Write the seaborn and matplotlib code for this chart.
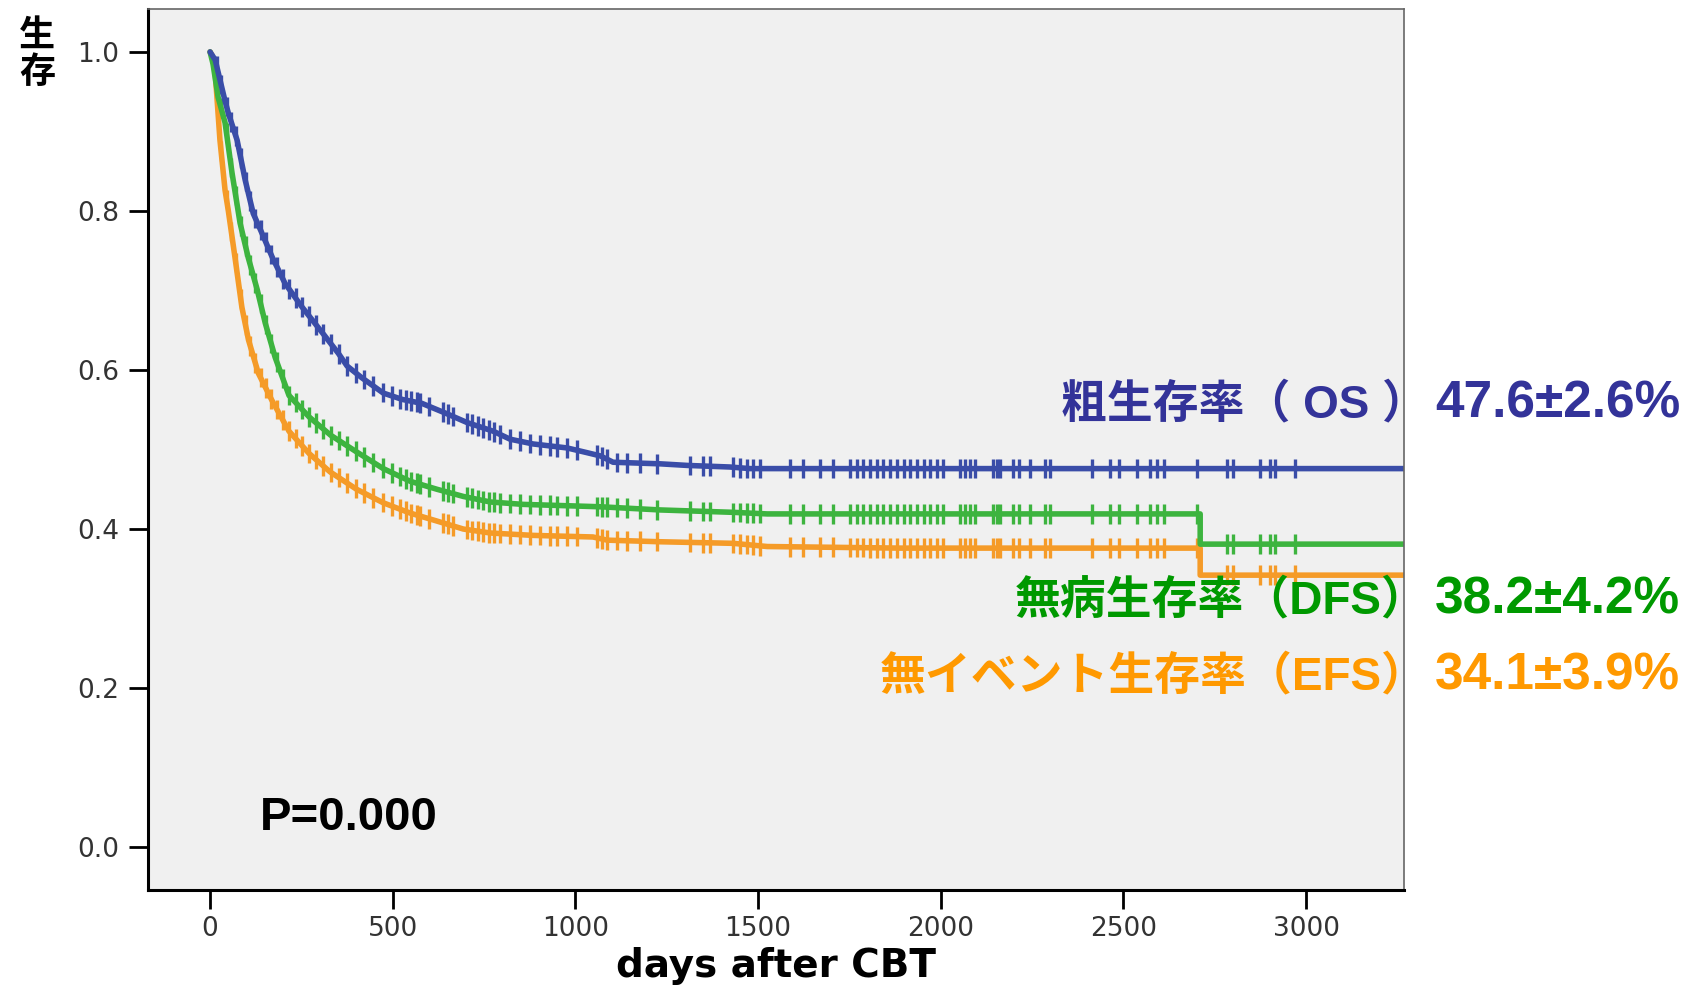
import numpy as np
import pandas as pd
import seaborn as sns
import matplotlib.pyplot as plt

# Kaplan-Meier curves (day, survival)
os_days = [0, 14, 27, 40, 50, 74, 96, 118, 142, 170, 205, 252, 307, 351, 375, 416, 474, 526,
           580, 643, 703, 775, 821, 884, 977, 1032, 1068, 1103, 1232, 1306, 1423, 1478, 3300]
os_surv = [1.000, 0.990, 0.965, 0.940, 0.923, 0.889, 0.839, 0.797, 0.772, 0.742, 0.709, 0.679,
           0.647, 0.621, 0.605, 0.590, 0.571, 0.563, 0.558, 0.546, 0.534, 0.523, 0.513, 0.507,
           0.502, 0.496, 0.492, 0.484, 0.482, 0.480, 0.478, 0.476, 0.476]

dfs_days = [0, 8, 22, 41, 60, 82, 104, 129, 151, 178, 216, 271, 330, 401, 474, 548, 621, 693,
            767, 857, 1068, 1232, 1432, 1525, 2710, 2710, 3300]
dfs_surv = [1.000, 0.985, 0.943, 0.911, 0.848, 0.785, 0.742, 0.701, 0.659, 0.616, 0.568, 0.541,
            0.518, 0.497, 0.476, 0.460, 0.450, 0.441, 0.434, 0.431, 0.428, 0.424, 0.421, 0.419,
            0.419, 0.381, 0.381]

efs_days = [0, 5, 14, 27, 41, 50, 68, 87, 105, 132, 169, 216, 271, 328, 401, 474, 548, 621,
            693, 767, 884, 1048, 1087, 1232, 1432, 1525, 1889, 2710, 2710, 3300]
efs_surv = [1.000, 0.996, 0.974, 0.889, 0.826, 0.800, 0.742, 0.679, 0.638, 0.596, 0.562, 0.523,
            0.495, 0.472, 0.450, 0.433, 0.420, 0.410, 0.400, 0.395, 0.392, 0.390, 0.386, 0.384,
            0.382, 0.378, 0.376, 0.376, 0.342, 0.342]

# censored follow-up times (shared by the three curves)
censor_days = [18, 30, 45, 58, 70, 84, 97, 110, 124, 138, 152, 167, 183, 199, 216, 234, 252,
               271, 290, 310, 331, 352, 375, 398, 422, 447, 472, 498, 520, 535, 550, 565, 575,
               600, 638, 650, 665, 703, 718, 733, 748, 763, 778, 794, 821, 849, 876, 903, 931,
               949, 976, 1004, 1059, 1072, 1086, 1113, 1141, 1177, 1223, 1314, 1350, 1369,
               1432, 1451, 1469, 1487, 1506, 1588, 1624, 1670, 1706, 1752, 1770, 1788, 1807,
               1825, 1843, 1861, 1880, 1898, 1916, 1934, 1953, 1971, 1989, 2007, 2053, 2067,
               2080, 2094, 2144, 2154, 2163, 2199, 2213, 2245, 2286, 2300, 2414, 2464, 2487,
               2537, 2573, 2592, 2610, 2701, 2784, 2800, 2874, 2902, 2916, 2970]

curves = ['EFS', 'DFS', 'OS']
line_colors = {'OS': '#3A4DA8', 'DFS': '#3DB43F', 'EFS': '#F59B28'}

labels = ['粗生存率（ OS ）', '無病生存率（DFS）', '無イベント生存率（EFS）']
values = ['47.6±2.6%', '38.2±4.2%', '34.1±3.9%']
text_colors = ['#333399', '#009900', '#FF9900']

sns.set_style('white')
plt.rcParams['font.family'] = ['DejaVu Sans']

knots = {'OS': (os_days, os_surv), 'DFS': (dfs_days, dfs_surv), 'EFS': (efs_days, efs_surv)}
km = pd.concat([pd.DataFrame({'day': d, 'surv': s, 'curve': c}) for c, (d, s) in knots.items()])

# censor marks sit on the drawn curve
cens = pd.concat([pd.DataFrame({'day': censor_days,
                                'surv': np.interp(censor_days, d, s),
                                'curve': c}) for c, (d, s) in knots.items()])

fig = plt.figure(figsize=(16.99, 9.91), dpi=100)
ax = fig.add_axes([0.0871, 0.1019, 0.7393, 0.8890])
ax.set_facecolor('#F0F0F0')

sns.lineplot(data=km, x='day', y='surv', hue='curve', hue_order=curves, palette=line_colors,
             estimator=None, sort=False, linewidth=4, legend=False, ax=ax)
sns.scatterplot(data=cens, x='day', y='surv', hue='curve', hue_order=curves, palette=line_colors,
                marker='|', s=200, linewidth=2.4, legend=False, ax=ax)

ax.set_xlim(-170, 3268)
ax.set_ylim(-0.054, 1.054)
ax.set_xticks(range(0, 3001, 500))
ax.set_yticks([0, 0.2, 0.4, 0.6, 0.8, 1.0])
ax.set_yticklabels(['0.0', '0.2', '0.4', '0.6', '0.8', '1.0'])
ax.tick_params(axis='both', direction='out', length=14, width=2, color='black',
               labelcolor='#333333', labelsize=19, bottom=True, left=True)
ax.tick_params(axis='x', pad=5)
ax.tick_params(axis='y', pad=6.5)
ax.set_ylabel('')
ax.set_xlabel('days after CBT', fontsize=28, fontweight='bold', color='black', labelpad=3)

for side in ['left', 'bottom']:
    ax.spines[side].set_color('black')
    ax.spines[side].set_linewidth(2.2)
for side in ['top', 'right']:
    ax.spines[side].set_color('#666666')
    ax.spines[side].set_linewidth(1.2)

fig.text(37 / 1699, 1 - 54 / 991, '生\n存', ha='center', va='center', fontsize=26,
         fontweight='bold', color='black', family=['Noto Sans CJK JP'], linespacing=1.0)

fig.text(260 / 1699, 1 - 830 / 991, 'P=0.000', ha='left', va='baseline', fontsize=34,
         fontweight='bold', color='black', family=['Liberation Sans'])

baselines = [417, 613, 689]
for lab, val, col, yb in zip(labels, values, text_colors, baselines):
    fig.text(1428 / 1699, 1 - yb / 991, lab, ha='right', va='baseline', fontsize=33,
             fontweight='bold', color=col, family=['Liberation Sans', 'Noto Sans CJK JP'])
    fig.text(1435 / 1699, 1 - yb / 991, val, ha='left', va='baseline', fontsize=37,
             fontweight='bold', color=col, family=['Liberation Sans'])

fig.savefig('out.png', dpi=100)
